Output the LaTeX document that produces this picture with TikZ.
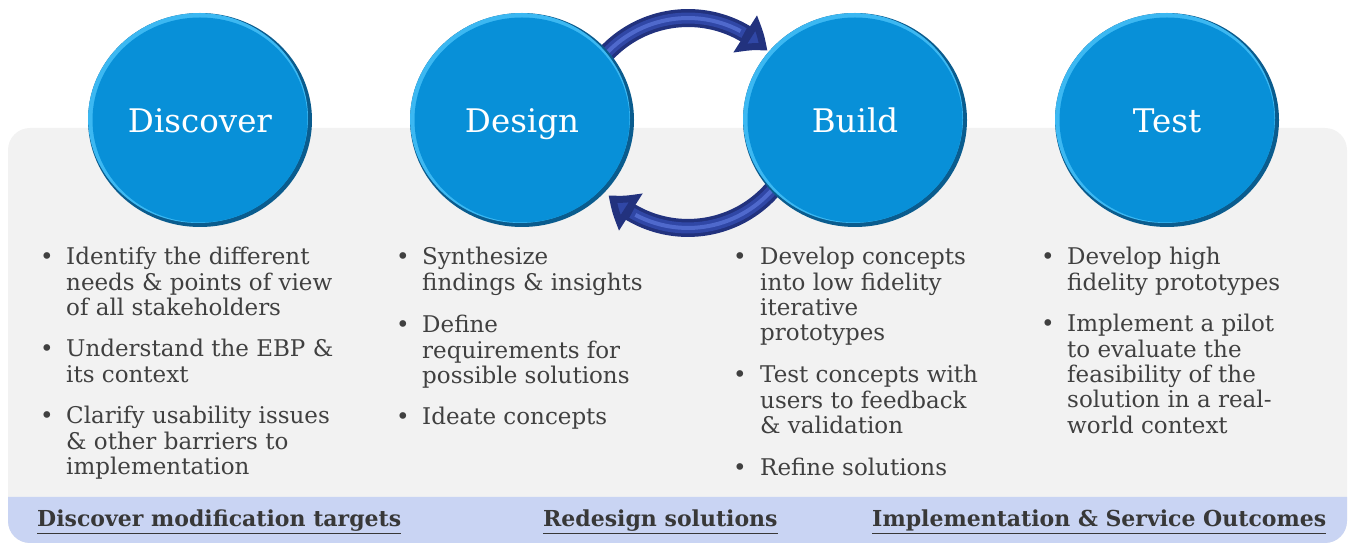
\documentclass[tikz,border=0pt]{standalone}
\usepackage{fontspec}
\setmainfont{DejaVu Serif}
\usetikzlibrary{shapes.geometric,arrows.meta,bending}
\definecolor{panelgray}{HTML}{F2F2F2}
\definecolor{bandblue}{HTML}{C9D4F3}
\definecolor{circmain}{HTML}{0890D8}
\definecolor{circlight}{HTML}{3CB8F2}
\definecolor{circdark}{HTML}{0A5C8E}
\definecolor{arrowdark}{HTML}{22327E}
\definecolor{arrowmid}{HTML}{3047A6}
\definecolor{arrowlight}{HTML}{4F69CC}
\definecolor{bodygray}{HTML}{404040}
\definecolor{labelgray}{HTML}{383838}
\newcommand{\lines}[1]{\begin{tabular}[t]{@{}l@{}}#1\end{tabular}}
\begin{document}
\begin{tikzpicture}[x=1pt,y=1pt,
  circ/.style={ellipse, minimum width=224pt, minimum height=214pt, inner sep=0pt,
    fill=circdark, text=white, font=\fontsize{32.5}{38}\selectfont,
    text height=26pt, text depth=0pt,
    path picture={
      \fill[circlight] ([xshift=-2pt,yshift=2pt]path picture bounding box.center) ellipse[x radius=110pt, y radius=105pt];
      \fill[circmain] (path picture bounding box.center) ellipse[x radius=107.5pt, y radius=102.5pt];
    }},
  body/.style={anchor=base west, inner sep=0pt, text=bodygray, font=\fontsize{23}{25.3}\selectfont},
  bul/.style={anchor=base west, inner sep=0pt, text=bodygray, font=\fontsize{23}{25}\selectfont},
  blabel/.style={anchor=base west, inner sep=0pt, text=labelgray, font=\fontsize{22}{25}\selectfont\bfseries},
  cyclearrow/.style={line width=18pt, draw=arrowdark, -{Triangle[length=28pt,width=42pt,bend,fill=arrowmid]}},
  cyclemid/.style={line width=11pt, draw=arrowmid},
  cyclestripe/.style={line width=4pt, draw=arrowlight}
]
\useasboundingbox (0,0) rectangle (1348,545);
% panel and band
\fill[panelgray, rounded corners=22pt] (8,2) rectangle (1347,417);
\fill[bandblue] (1347,48) -- (8,48) [rounded corners=22pt] -- (8,2) -- (1347,2) [sharp corners] -- cycle;

% cycle arrows
\coordinate (tas) at (596.3,479.2);
\coordinate (bas) at (779.7,364.8);
\draw[cyclearrow] (tas) arc[start angle=145, end angle=45, radius=112];
\draw[cyclemid] (tas) arc[start angle=145, end angle=60, radius=112];
\draw[cyclestripe] (tas) arc[start angle=145, end angle=62, radius=112];
\draw[cyclearrow] (bas) arc[start angle=-35, end angle=-135, radius=112];
\draw[cyclemid] (bas) arc[start angle=-35, end angle=-120, radius=112];
\draw[cyclestripe] (bas) arc[start angle=-35, end angle=-118, radius=112];

% circles
\node[circ] (discover) at (200,425) {Discover};
\node[circ] (design) at (522,425) {Design};
\node[circ] (build) at (855,425) {Build};
\node[circ] (test) at (1167,425) {Test};

% column 1
\node[bul] (b11) at (40,280) {•};
\node[body] (t11) at (66,280) {\lines{Identify the different\\needs \& points of view\\of all stakeholders}};
\node[bul] (b12) at (40,188) {•};
\node[body] (t12) at (66,188) {\lines{Understand the EBP \&\\its context}};
\node[bul] (b13) at (40,121) {•};
\node[body] (t13) at (66,121) {\lines{Clarify usability issues\\\& other barriers to\\implementation}};
% column 2
\node[bul] (b21) at (396,280) {•};
\node[body] (t21) at (422,280) {\lines{Synthesize\\findings \& insights}};
\node[bul] (b22) at (396,212) {•};
\node[body] (t22) at (422,212) {\lines{Define\\requirements for\\possible solutions}};
\node[bul] (b23) at (396,120) {•};
\node[body] (t23) at (422,120) {\lines{Ideate concepts}};
% column 3
\node[bul] (b31) at (733,280) {•};
\node[body] (t31) at (760,280) {\lines{Develop concepts\\into low fidelity\\iterative\\prototypes}};
\node[bul] (b32) at (733,162) {•};
\node[body] (t32) at (760,162) {\lines{Test concepts with\\users to feedback\\\& validation}};
\node[bul] (b33) at (733,69) {•};
\node[body] (t33) at (760,69) {\lines{Refine solutions}};
% column 4
\node[bul] (b41) at (1041,280) {•};
\node[body] (t41) at (1067,280) {\lines{Develop high\\fidelity prototypes}};
\node[bul] (b42) at (1041,213) {•};
\node[body] (t42) at (1067,213) {\lines{Implement a pilot\\to evaluate the\\feasibility of the\\solution in a real-\\world context}};

% bottom labels
\node[blabel] (l1) at (37,18) {\underline{Discover modification targets}};
\node[blabel] (l2) at (543,18) {\underline{Redesign solutions}};
\node[blabel] (l3) at (872,18) {\underline{Implementation \& Service Outcomes}};
\end{tikzpicture}
\end{document}
